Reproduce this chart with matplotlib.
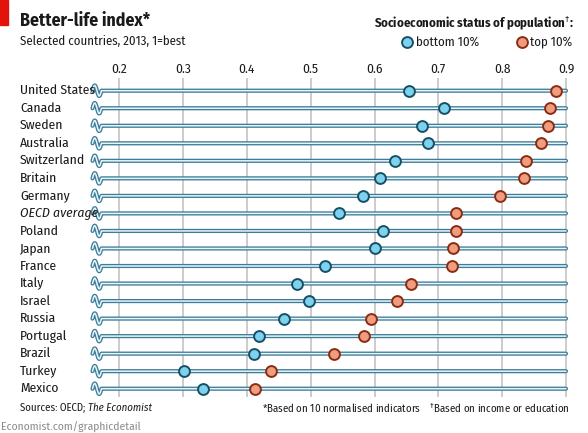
import matplotlib
matplotlib.use("Agg")
import matplotlib.pyplot as plt
import matplotlib.transforms as mtransforms
from matplotlib import font_manager
import numpy as np

names = {f.name for f in font_manager.fontManager.ttflist}
FONT = next((f for f in ["Fira Sans Condensed", "Asap Condensed", "Liberation Sans Narrow", "Lato"]
             if f in names), "DejaVu Sans")
plt.rcParams["font.family"] = [FONT, "DejaVu Sans"]
plt.rcParams["mathtext.fontset"] = "custom"
plt.rcParams["mathtext.rm"] = FONT

countries = ["United States", "Canada", "Sweden", "Australia", "Switzerland", "Britain",
             "Germany", "OECD average", "Poland", "Japan", "France", "Italy", "Israel",
             "Russia", "Portugal", "Brazil", "Turkey", "Mexico"]
bottom10 = [0.654, 0.709, 0.675, 0.683, 0.632, 0.608, 0.582, 0.544, 0.614, 0.601,
            0.522, 0.478, 0.498, 0.458, 0.419, 0.411, 0.301, 0.331]
top10 = [0.884, 0.875, 0.872, 0.861, 0.837, 0.835, 0.797, 0.728, 0.727, 0.723,
         0.722, 0.657, 0.635, 0.594, 0.583, 0.536, 0.438, 0.413]
xticks = [0.2, 0.3, 0.4, 0.5, 0.6, 0.7, 0.8, 0.9]

W, H = 588, 433
fig = plt.figure(figsize=(W / 100, H / 100), dpi=100)
fig.patch.set_facecolor("white")

TXT = "#1a1a1a"
ax_l, ax_r, ax_t, ax_b = 90, 575, 78, 397
ax = fig.add_axes([ax_l / W, 1 - ax_b / H, (ax_r - ax_l) / W, (ax_b - ax_t) / H])
x0px, pxper = 119.3, 638.1
ax.set_xlim(0.2 - (x0px - ax_l) / pxper, 0.2 + (ax_r - x0px) / pxper)
row0, rowsp = 90.7, 17.53
ax.set_ylim((ax_b - row0) / rowsp, (ax_t - row0) / rowsp)
for s in ax.spines.values():
    s.set_visible(False)
ax.set_yticks([])
ax.set_xticks(xticks)
ax.xaxis.tick_top()
ax.tick_params(axis="x", length=0, pad=2, labelsize=9.6, labelcolor=TXT)
ax.set_xticklabels([f"{t:.1f}" for t in xticks])
ax.grid(axis="x", color="#c8c8c8", lw=1.3, zorder=0)
ax.set_axisbelow(True)

DARK = "#3c7d99"
LIGHT = "#eaf5f9"
line_start = 0.172
brk_w = 0.014
for i, c in enumerate(countries):
    t = np.linspace(0, 1, 40)
    bx = line_start - brk_w + brk_w * t
    by = i - 0.3 * np.sin(2 * np.pi * t)
    xs = np.concatenate([bx, [xticks[-1]]])
    ys = np.concatenate([by, [i]])
    ax.plot(xs, ys, color=DARK, lw=3.0, solid_capstyle="round", solid_joinstyle="round", zorder=2)
    ax.plot(xs, ys, color=LIGHT, lw=1.1, solid_capstyle="round", solid_joinstyle="round", zorder=3)

yidx = np.arange(len(countries))
ax.plot(bottom10, yidx, "o", ms=7.8, mfc="#7dd3ee", mec="#174f66", mew=1.4, zorder=5, ls="none")
ax.plot(top10, yidx, "o", ms=7.8, mfc="#ef9d7e", mec="#8a2c12", mew=1.4, zorder=5, ls="none")

trans = mtransforms.blended_transform_factory(fig.transFigure, ax.transData)
for i, c in enumerate(countries):
    ax.text(20 / W, i, c, transform=trans, ha="left", va="center", fontsize=9.8,
            color=TXT, style="italic" if c == "OECD average" else "normal")

def fx(px):
    return px / W

def fy(py):
    return 1 - py / H

fig.patches.append(plt.Rectangle((0, fy(25)), fx(8), 25 / H, transform=fig.transFigure,
                                 color="#e3120b", zorder=10))
fig.text(fx(20), fy(21), "Better-life index*", fontsize=12.8, fontweight="bold",
         ha="left", va="center", color=TXT)
fig.text(fx(20), fy(41), "Selected countries, 2013, 1=best", fontsize=9.2,
         ha="left", va="center", color=TXT)

fig.text(fx(574), fy(23), r"Socioeconomic status of population$^{\dagger}$:",
         fontsize=9.2, fontweight="bold", ha="right", va="center", color=TXT)
fig.lines.append(plt.Line2D([fx(407)], [fy(42)], marker="o", ms=7.8, mfc="#7dd3ee",
                            mec="#174f66", mew=1.4, transform=fig.transFigure))
fig.text(fx(415.5), fy(42), "bottom 10%", fontsize=9.3, ha="left", va="center", color=TXT)
fig.lines.append(plt.Line2D([fx(522)], [fy(42)], marker="o", ms=7.8, mfc="#ef9d7e",
                            mec="#8a2c12", mew=1.4, transform=fig.transFigure))
fig.text(fx(530.5), fy(42), "top 10%", fontsize=9.3, ha="left", va="center", color=TXT)

t1 = fig.text(fx(20), fy(408), "Sources: OECD; ", fontsize=7.8, ha="left", va="center", color=TXT)
fig.canvas.draw()
bb = t1.get_window_extent()
fig.text(bb.x1 / W, fy(408), "The Economist", fontsize=7.8, style="italic", ha="left",
         va="center", color=TXT)
fig.text(fx(570), fy(408), r"*Based on 10 normalised indicators    $^{\dagger}$Based on income or education",
         fontsize=7.8, ha="right", va="center", color=TXT)
fig.text(fx(1), fy(427), "Economist.com/graphicdetail", fontsize=8.3, ha="left",
         va="center", color="#8c8c8c")

fig.savefig("out.png", dpi=100, facecolor="white")
